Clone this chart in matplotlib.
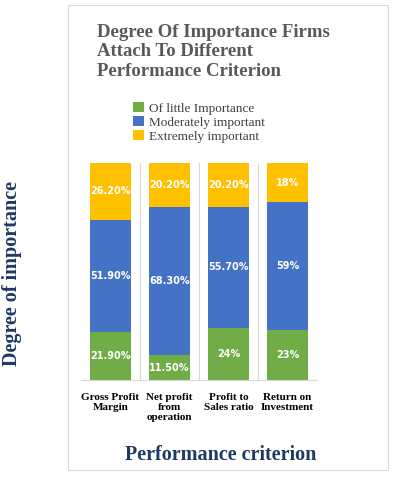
import matplotlib
matplotlib.use("Agg")
import matplotlib.pyplot as plt
from matplotlib.patches import Rectangle

categories = ["Gross Profit\nMargin", "Net profit\nfrom\noperation", "Profit to\nSales ratio", "Return on\nInvestment"]
little = [21.9, 11.5, 24, 23]
moderate = [51.9, 68.3, 55.7, 59]
extreme = [26.2, 20.2, 20.2, 18]
little_lbl = ["21.90%", "11.50%", "24%", "23%"]
moderate_lbl = ["51.90%", "68.30%", "55.70%", "59%"]
extreme_lbl = ["26.20%", "20.20%", "20.20%", "18%"]

fig = plt.figure(figsize=(4.02, 4.99), dpi=100)
fig.patches.append(Rectangle((68/402, 1-470/499), 320/402, 465/499, transform=fig.transFigure,
                             fill=False, edgecolor="#d9d9d9", lw=0.8))
ax = fig.add_axes([81/402, 1-380/499, 236/402, 217/499])
x = range(len(categories))
w = 0.69
cols = ["#70AD47", "#4472C4", "#FFC000"]
names = ["Of little Importance", "Moderately important", "Extremely important"]
bottom = [0]*4
for vals, lbls, c, n in zip([little, moderate, extreme], [little_lbl, moderate_lbl, extreme_lbl], cols, names):
    bars = ax.bar(x, vals, w, bottom=bottom, color=c, label=n, zorder=2)
    for i, b in enumerate(bars):
        ax.text(b.get_x()+b.get_width()/2, bottom[i]+vals[i]/2, lbls[i], ha="center", va="center",
                color="white", fontsize=7, fontweight="bold", family="DejaVu Sans")
    bottom = [bottom[i]+vals[i] for i in range(4)]
ax.set_xlim(-0.5, 3.5)
ax.set_ylim(0, 100)
for xv in [0.5, 1.5, 2.5]:
    ax.axvline(xv, color="#d9d9d9", lw=0.8, zorder=1)
ax.set_yticks([])
ax.set_xticks(list(x))
ax.set_xticklabels(categories, fontsize=8, fontweight="bold", family="Liberation Serif", va="top")
ax.tick_params(axis="x", length=0, pad=9)
for s in ["top", "right", "left"]:
    ax.spines[s].set_visible(False)
ax.spines["bottom"].set_color("#d9d9d9")

fig.text(97/402, 1-52/499, "Degree Of Importance Firms\nAttach To Different\nPerformance Criterion", ha="left", va="center",
         fontsize=13.5, fontweight="bold", color="#595959", family="Liberation Serif", linespacing=1.2)
fig.legend(loc="upper left", bbox_to_anchor=(124/402, 1-93/499), frameon=False,
          prop={"family": "Liberation Serif", "size": 9.5}, handlelength=0.8, handleheight=0.8,
          labelspacing=0.1, borderpad=0.2, handletextpad=0.4, labelcolor="#404040")
fig.text(221/402, 1-455/499, "Performance criterion", ha="center", va="center", fontsize=14.5,
         fontweight="bold", color="#1F3864", family="Liberation Serif")
fig.text(12/402, 1-274/499, "Degree of importance", ha="center", va="center", rotation=90, fontsize=14.5,
         fontweight="bold", color="#1F3864", family="Liberation Serif")
fig.savefig("out.png", dpi=100)
